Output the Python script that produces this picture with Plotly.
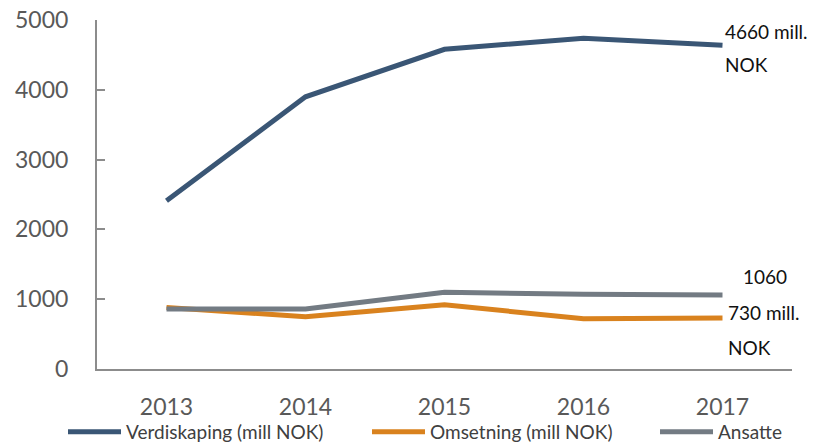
import plotly.graph_objects as go

years = ["2013", "2014", "2015", "2016", "2017"]
verdiskaping = [2410, 3900, 4580, 4740, 4640]
omsetning = [880, 750, 920, 720, 730]
ansatte = [860, 860, 1100, 1070, 1060]
y_ticks = [0, 1000, 2000, 3000, 4000, 5000]

names = ["Verdiskaping (mill NOK)", "Omsetning (mill NOK)", "Ansatte"]
colors = ["#3a5675", "#d9821e", "#737b83"]
legend_ids = ["legend", "legend2", "legend3"]
legend_x_px = [63, 367, 655]

W, H = 838, 442

fig = go.Figure()
for name, vals, col, lid in zip(names, [verdiskaping, omsetning, ansatte], colors, legend_ids):
    fig.add_trace(go.Scatter(x=years, y=vals, name=name, mode="lines", legend=lid,
                             line=dict(color=col, width=5)))

last = len(years) - 1
ann_font = dict(family="Lato", size=19, color="#111111")
labels = [
    ("4660 mill.", verdiskaping[-1], 0, 14),
    ("NOK", verdiskaping[-1], 0, -19),
    ("1060", ansatte[-1], 18, 19),
    ("730 mill.", omsetning[-1], 3, 6),
    ("NOK", omsetning[-1], 3, -29),
]
for txt, yv, xs, ys in labels:
    fig.add_annotation(x=last, y=yv, xref="x", yref="y", text=txt,
                       showarrow=False, xanchor="left", yanchor="middle",
                       xshift=xs, yshift=ys, font=ann_font)

leg_common = dict(orientation="h", xref="container", yref="container",
                  xanchor="left", yanchor="middle", y=10 / H,
                  font=dict(family="Lato", size=19, color="#404040"),
                  itemwidth=53, bgcolor="rgba(0,0,0,0)", borderwidth=0)
layout_legends = {}
for lid, px in zip(legend_ids, legend_x_px):
    layout_legends[lid] = dict(leg_common, x=px / W)

fig.update_layout(
    width=W, height=H,
    margin=dict(l=97, r=46, t=20, b=73, autoexpand=False),
    paper_bgcolor="white", plot_bgcolor="white",
    font=dict(family="Lato", color="#595959"),
    showlegend=True,
    xaxis=dict(type="category", range=[-0.5, 4.5], showline=True, linecolor="#8c8c8c",
               linewidth=2, ticks="", showgrid=False, automargin=False,
               tickfont=dict(size=23, color="#595959"), ticklabelstandoff=16),
    yaxis=dict(range=[0, 5000], tickvals=y_ticks, showline=True, linecolor="#8c8c8c",
               linewidth=2, ticks="inside", ticklen=8, tickcolor="#8c8c8c", tickwidth=2,
               showgrid=False, zeroline=False, automargin=False,
               tickfont=dict(size=23, color="#595959"), ticklabelstandoff=22),
    **layout_legends,
)

fig.write_html("out.html", config={"displayModeBar": False},
               post_script="document.body.style.margin='0';")
